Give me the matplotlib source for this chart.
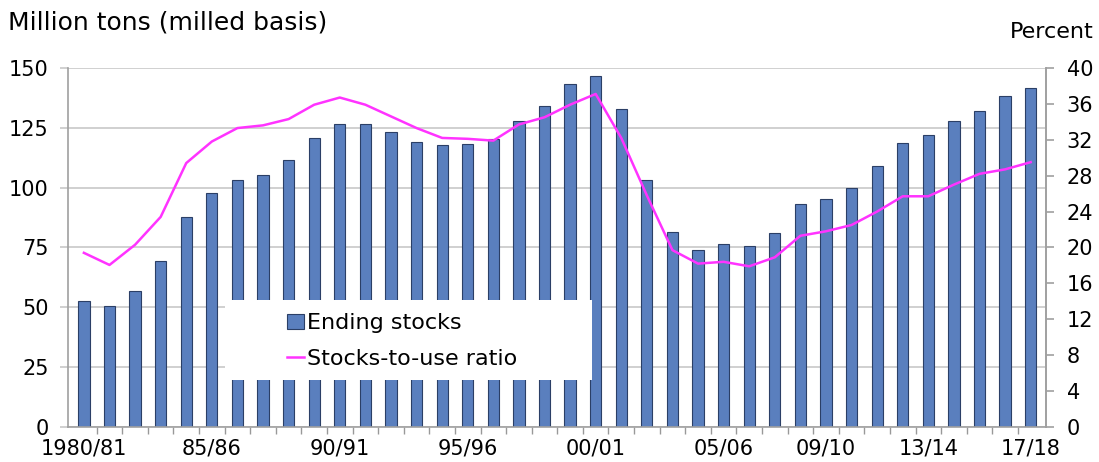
import matplotlib
matplotlib.use("Agg")
import matplotlib.pyplot as plt
from matplotlib.patches import Rectangle

plt.rcParams['font.family'] = ['DejaVu Sans']

# Ending stocks (million tons, milled basis), 1980/81 .. 2017/18
ending_stocks = [52.8, 50.7, 57.0, 69.5, 87.9, 97.8, 103.3, 105.3, 111.7, 120.6,
                 126.7, 126.7, 123.3, 119.0, 117.6, 118.1, 120.4, 127.7, 134.1, 143.2,
                 146.8, 132.9, 103.2, 81.6, 74.0, 76.6, 75.5, 80.9, 93.2, 95.3,
                 100.0, 109.1, 118.7, 122.0, 127.9, 132.2, 138.3, 141.5]
# Stocks-to-use ratio (percent)
stocks_to_use = [19.4, 18.05, 20.3, 23.4, 29.4, 31.8, 33.3, 33.6, 34.3, 35.9,
                 36.7, 35.9, 34.6, 33.3, 32.2, 32.1, 31.9, 33.7, 34.5, 35.9,
                 37.1, 32.2, 25.8, 19.7, 18.2, 18.4, 17.9, 18.9, 21.3, 21.8,
                 22.5, 24.0, 25.7, 25.7, 27.0, 28.2, 28.7, 29.5]
tick_idx = [0, 5, 10, 15, 20, 25, 29, 33, 37]
tick_labels = ["1980/81", "85/86", "90/91", "95/96", "00/01", "05/06", "09/10", "13/14", "17/18"]

fig = plt.figure(figsize=(10.99, 4.62), dpi=100)
ax = fig.add_axes([0.0619, 0.0758, 0.8899, 0.7772])
x = list(range(len(ending_stocks)))

bars = ax.bar(x, ending_stocks, width=0.44, color='#5a7fbe', edgecolor='#2b3f66',
              linewidth=0.8, zorder=2, label='Ending stocks')
ax.set_ylim(0, 150)
ax.set_xlim(-0.62, len(x) - 1 + 0.6)
ax.set_yticks(range(0, 151, 25))
ax.yaxis.grid(True, color='#c8c8c8', linewidth=1.2, zorder=0)
ax.set_axisbelow(True)

ax.set_xticks(tick_idx)
ax.set_xticklabels(tick_labels)
ax.set_xticks([i + 0.5 for i in x[:-1]], minor=True)
ax.tick_params(axis='x', which='major', length=0, labelsize=15, pad=8)
ax.tick_params(axis='x', which='minor', length=5, color='#999999', width=1)
ax.tick_params(axis='y', length=6, color='#c8c8c8', width=1.2, labelsize=15, pad=8)

ax.spines['top'].set_visible(False)
for s in ['left', 'bottom', 'right']:
    ax.spines[s].set_color('#a0a0a0')
    ax.spines[s].set_linewidth(1.2)

# white legend panel covering part of the bars
ax.add_patch(Rectangle((0.16, 0.131), 0.376, 0.223, transform=ax.transAxes,
                       facecolor='white', edgecolor='none', zorder=5))

ax2 = ax.twinx()
line, = ax2.plot(x, stocks_to_use, color='#ff33ff', linewidth=1.8, label='Stocks-to-use ratio')
ax2.set_ylim(0, 40)
ax2.set_yticks(range(0, 41, 4))
ax2.tick_params(axis='y', length=6, color='#a0a0a0', width=1.2, labelsize=15, pad=9)
for s in ['top', 'left', 'bottom']:
    ax2.spines[s].set_visible(False)
ax2.spines['right'].set_color('#a0a0a0')
ax2.spines['right'].set_linewidth(1.2)

leg = ax2.legend([bars, line], ['Ending stocks', 'Stocks-to-use ratio'],
                 loc='upper left', bbox_to_anchor=(0.215, 0.342), frameon=False,
                 fontsize=16, handlelength=0.75, handleheight=0.7, handletextpad=0.15,
                 labelspacing=0.72, borderaxespad=0)

fig.text(0.007, 0.952, 'Million tons (milled basis)', fontsize=18, va='center', ha='left')
fig.text(0.995, 0.93, 'Percent', fontsize=16, va='center', ha='right')

fig.savefig('out.png', dpi=100)
